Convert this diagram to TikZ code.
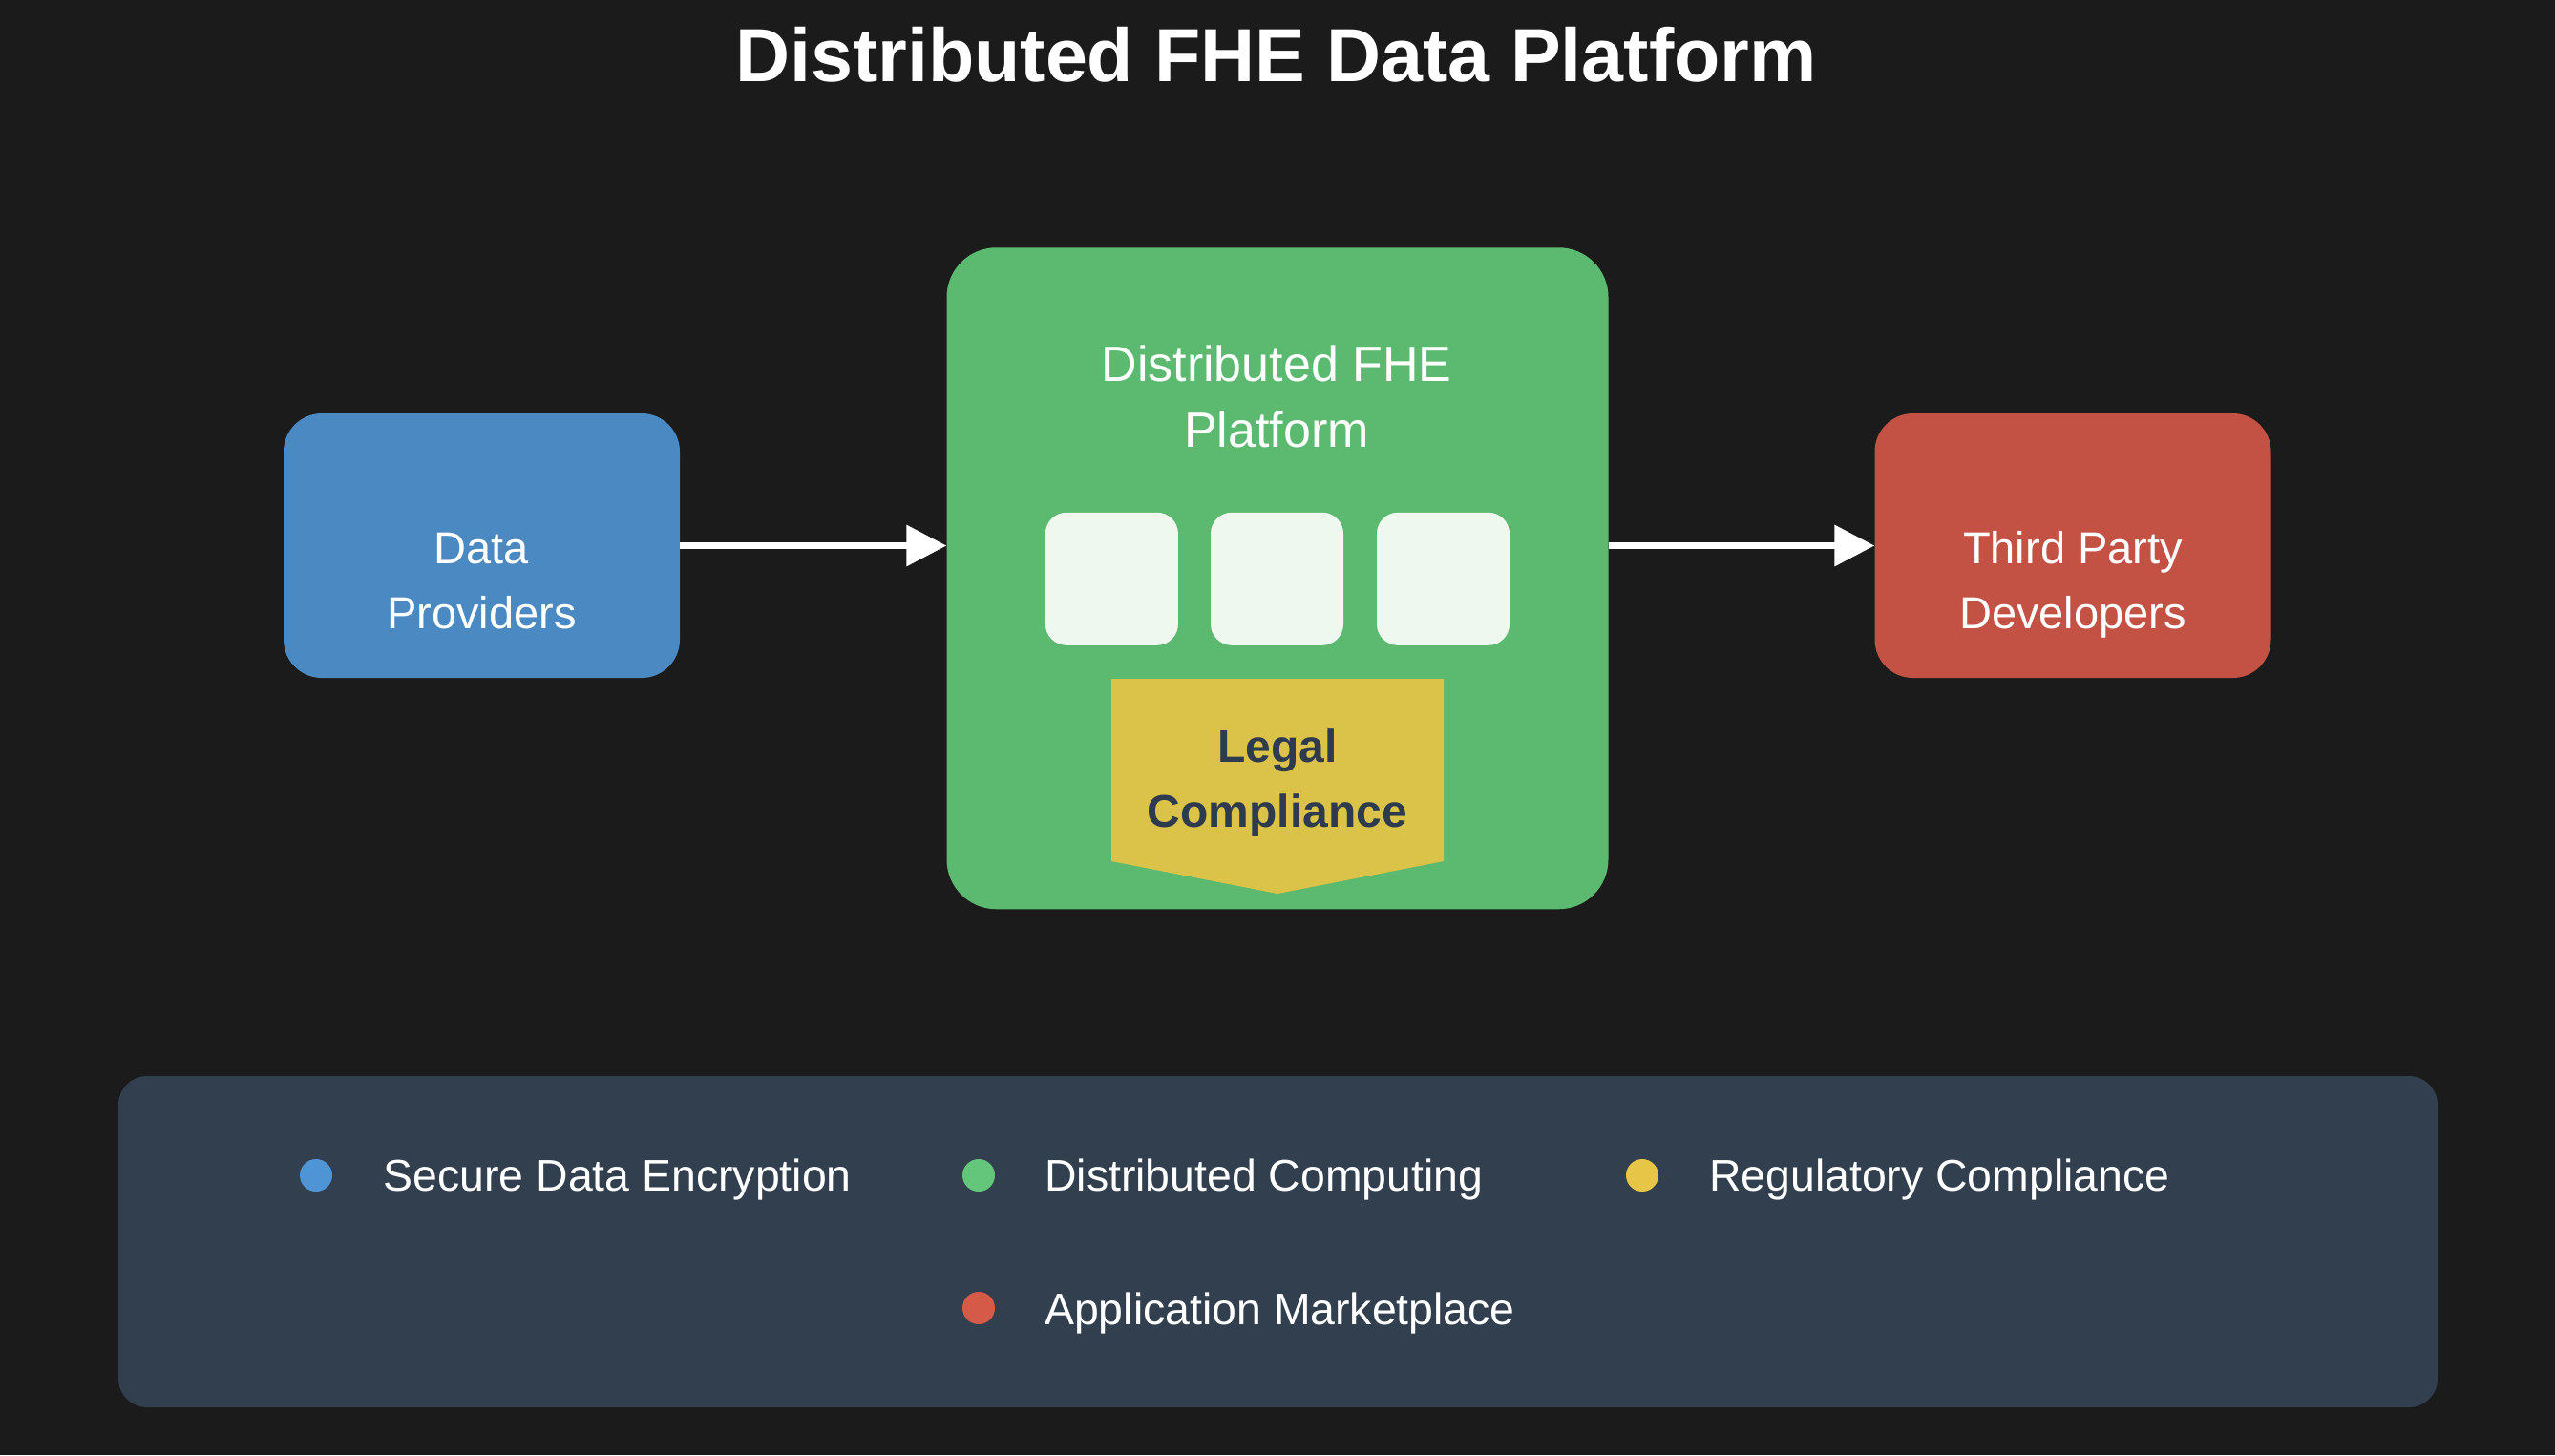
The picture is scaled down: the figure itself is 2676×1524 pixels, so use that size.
\documentclass[tikz,border=0pt]{standalone}
\usepackage{fontspec}
\setmainfont{Liberation Sans}
\usetikzlibrary{arrows.meta}
\definecolor{bg}{HTML}{1B1B1B}
\definecolor{cblue}{HTML}{4A89C2}
\definecolor{cgreen}{HTML}{5CB970}
\definecolor{cred}{HTML}{C35244}
\definecolor{cyellow}{HTML}{DAC348}
\definecolor{clight}{HTML}{EFF8EF}
\definecolor{clegend}{HTML}{323F4F}
\definecolor{cdark}{HTML}{2E3B4E}
\definecolor{dblue}{HTML}{4F95D5}
\definecolor{dgreen}{HTML}{63C67B}
\definecolor{dyellow}{HTML}{E6C547}
\definecolor{dred}{HTML}{D65A48}
\tikzset{
  box/.style={draw=none, rounded corners=40pt, minimum width=415pt, minimum height=277pt, inner sep=0pt},
  boxtext/.style={anchor=base, text=white, inner sep=0pt, font=\fontsize{47}{56}\selectfont},
  sq/.style={draw=none, fill=clight, rounded corners=22pt, minimum width=139pt, minimum height=139pt, inner sep=0pt},
  arr/.style={draw=white, line width=6.7pt, -{Triangle[length=42pt 0 0, width=42pt 0 0]}},
  dot/.style={circle, inner sep=0pt, minimum size=34pt, draw=none},
  legtext/.style={anchor=base west, text=white, inner sep=0pt, font=\fontsize{46.4}{54}\selectfont},
}
\begin{document}
\begin{tikzpicture}[x=1pt,y=-1pt]
\useasboundingbox[fill=bg] (0,0) rectangle (2676,1524);
% title
\node[anchor=base, text=white, inner sep=0pt, font=\bfseries\fontsize{79}{90}\selectfont] (title) at (1336.5,85) {Distributed FHE Data Platform};
% boxes
\node[box, fill=cblue] (dp) at (504.5,571.5) {};
\node[boxtext] (dpt1) at (504.5,590) {Data};
\node[boxtext] (dpt2) at (504.5,658) {Providers};
\node[box, fill=cred] (tpd) at (2171,571.5) {};
\node[boxtext] (tpdt1) at (2171,590) {Third Party};
\node[boxtext] (tpdt2) at (2171,658) {Developers};
\node[box, fill=cgreen, rounded corners=52pt, minimum width=693pt, minimum height=693pt] (fhe) at (1338,605.75) {};
\node[anchor=base, text=white, inner sep=0pt, font=\fontsize{52}{62}\selectfont] (fhet1) at (1337,399) {Distributed FHE};
\node[anchor=base, text=white, inner sep=0pt, font=\fontsize{52}{62}\selectfont] (fhet2) at (1337,468) {Platform};
\node[sq] (s1) at (1164.4,606.3) {};
\node[sq] (s2) at (1337.5,606.3) {};
\node[sq] (s3) at (1511.5,606.3) {};
\fill[cyellow] (1164,711) -- (1512,711) -- (1512,902) -- (1338,936) -- (1164,902) -- cycle;
\node[anchor=base, text=cdark, inner sep=0pt, font=\bfseries\fontsize{48}{58}\selectfont] (lc1) at (1338,798.5) {Legal};
\node[anchor=base, text=cdark, inner sep=0pt, font=\bfseries\fontsize{48}{58}\selectfont] (lc2) at (1338,866.5) {Compliance};
% arrows
\draw[arr] (dp.east) -- (dp.east -| fhe.west);
\draw[arr] (fhe.east |- tpd.west) -- (tpd.west);
% legend
\node[draw=none, fill=clegend, rounded corners=30pt, minimum width=2429pt, minimum height=347pt, inner sep=0pt] (legend) at (1338.5,1300.5) {};
\node[dot, fill=dblue] (d1) at (331,1231) {};
\node[legtext] (l1) at (401.5,1247) {Secure Data Encryption};
\node[dot, fill=dgreen] (d2) at (1025,1231) {};
\node[legtext] (l2) at (1094,1247) {Distributed Computing};
\node[dot, fill=dyellow] (d3) at (1720,1231) {};
\node[legtext] (l3) at (1790,1247) {Regulatory Compliance};
\node[dot, fill=dred] (d4) at (1025,1370) {};
\node[legtext] (l4) at (1094,1387) {Application Marketplace};
\end{tikzpicture}
\end{document}
